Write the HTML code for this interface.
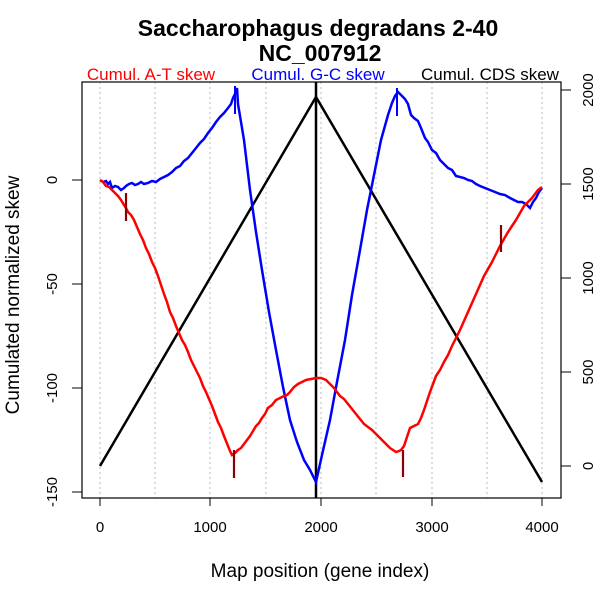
<!DOCTYPE html>
<html><head><style>
html,body{margin:0;padding:0;background:#fff;}
svg{display:block;font-family:"Liberation Sans",sans-serif;}
</style></head><body>
<svg width="600" height="600" viewBox="0 0 600 600">
<rect width="600" height="600" fill="#fff"/>
<text x="318" y="36" font-size="23" text-anchor="middle" font-weight="bold">Saccharophagus degradans 2-40</text>
<text x="320" y="61" font-size="23" text-anchor="middle" font-weight="bold">NC_007912</text>
<text x="151" y="80" font-size="17" fill="#f00" text-anchor="middle">Cumul. A-T skew</text>
<text x="318" y="80" font-size="17" fill="#00f" text-anchor="middle">Cumul. G-C skew</text>
<text x="490" y="80" font-size="17" fill="#000" text-anchor="middle">Cumul. CDS skew</text>
<g stroke="#bbb" stroke-dasharray="2,3" stroke-width="1">
<line x1="100" y1="82" x2="100" y2="498"/><line x1="155" y1="82" x2="155" y2="498"/><line x1="210" y1="82" x2="210" y2="498"/><line x1="266" y1="82" x2="266" y2="498"/><line x1="321" y1="82" x2="321" y2="498"/><line x1="376" y1="82" x2="376" y2="498"/><line x1="432" y1="82" x2="432" y2="498"/><line x1="487" y1="82" x2="487" y2="498"/><line x1="542" y1="82" x2="542" y2="498"/>
</g>
<polyline fill="none" stroke="#000" stroke-width="2.5" points="100,466 316,97 542,482"/>
<line x1="316" y1="82" x2="316" y2="498" stroke="#000" stroke-width="2.5"/>
<polyline fill="none" stroke="#00f" stroke-width="2.5" points="100,180 103,182 106,181 108,184 110,182 112,188 115,186 118,187 121,190 124,188 126,186 129,184 132,183 135,185 138,184 141,182 144,184 148,183 152,181 156,182 160,179 164,177 168,175 172,172 176,168 180,166 184,161 188,158 192,153 196,148 200,143 204,139 208,133 212,128 216,122 220,117 224,113 228,108 231,104 233,98 236,92 237,88 238,104 244,140 250,190 256,232 262,270 269,312 276,350 283,387 290,420 297,442 304,460 310,470 316,482 322,455 330,420 337,382 345,340 352,295 360,250 367,210 375,170 381,140 388,115 392,103 395,96 398,92 402,96 405,99 408,104 411,115 414,118 418,121 421,128 425,138 428,142 432,150 436,153 440,160 444,164 448,168 452,170 456,176 460,177 464,178 468,180 472,181 476,184 480,186 485,188 490,190 495,192 500,194 505,195 510,198 514,200 518,202 522,202 526,204 530,208 533,202 536,198 539,192 542,188"/>
<line x1="235" y1="86" x2="235" y2="114" stroke="#00f" stroke-width="2"/>
<line x1="397" y1="88" x2="397" y2="116" stroke="#00f" stroke-width="2"/>
<polyline fill="none" stroke="#f00" stroke-width="2.5" points="100,180 103,182 106,186 109,187 112,190 115,193 118,196 121,200 124,205 126,208 128,212 131,215 134,220 137,227 140,234 143,240 146,248 149,254 152,262 155,268 158,276 161,285 164,294 167,302 170,312 173,318 176,326 179,333 182,340 185,345 188,352 191,360 194,366 197,372 200,378 203,386 206,392 209,399 212,406 215,414 218,422 221,428 224,436 226,441 228,446 230,451 232,455 235,453 238,450 241,448 244,444 247,440 250,436 253,431 256,426 259,423 262,418 265,414 268,408 272,405 276,400 280,398 284,396 287,395 290,392 294,387 298,384 302,382 306,380 311,379 316,378 321,378 326,380 330,384 334,388 337,392 340,396 344,399 348,404 352,409 356,414 360,419 364,424 368,427 372,430 375,433 378,436 381,439 384,442 387,445 390,448 393,450 396,452 399,451 401,450 404,446 406,440 408,434 410,428 414,426 418,424 421,418 424,410 427,401 430,392 433,384 436,376 440,370 444,362 448,355 452,346 456,338 460,330 464,321 468,312 472,303 476,294 480,285 484,276 488,269 492,262 496,254 500,246 504,239 508,232 512,226 516,220 520,213 524,206 528,202 532,198 535,194 538,190 542,187"/>
<g stroke="#8b0000" stroke-width="2.2">
<line x1="126" y1="193" x2="126" y2="221"/>
<line x1="234" y1="450" x2="234" y2="478"/>
<line x1="403" y1="450" x2="403" y2="477"/>
<line x1="501" y1="225" x2="501" y2="252"/>
</g>
<rect x="82" y="82" width="479" height="416" fill="none" stroke="#000" stroke-width="1.2"/>
<g stroke="#000" stroke-width="1">
<line x1="72" y1="180" x2="82" y2="180"/><line x1="72" y1="284" x2="82" y2="284"/><line x1="72" y1="388" x2="82" y2="388"/><line x1="72" y1="492" x2="82" y2="492"/>
<line x1="561" y1="90" x2="571" y2="90"/><line x1="561" y1="184" x2="571" y2="184"/><line x1="561" y1="278" x2="571" y2="278"/><line x1="561" y1="372" x2="571" y2="372"/><line x1="561" y1="466" x2="571" y2="466"/>
<line x1="100" y1="498" x2="100" y2="506"/><line x1="210" y1="498" x2="210" y2="506"/><line x1="321" y1="498" x2="321" y2="506"/><line x1="432" y1="498" x2="432" y2="506"/><line x1="542" y1="498" x2="542" y2="506"/>
</g>
<g font-size="15" text-anchor="middle">
<text transform="translate(57,180) rotate(-90)">0</text>
<text transform="translate(57,284) rotate(-90)">-50</text>
<text transform="translate(57,388) rotate(-90)">-100</text>
<text transform="translate(57,492) rotate(-90)">-150</text>
<text transform="translate(593,90) rotate(-90)">2000</text>
<text transform="translate(593,184) rotate(-90)">1500</text>
<text transform="translate(593,278) rotate(-90)">1000</text>
<text transform="translate(593,372) rotate(-90)">500</text>
<text transform="translate(593,466) rotate(-90)">0</text>
<text x="100" y="532">0</text><text x="210" y="532">1000</text><text x="321" y="532">2000</text><text x="432" y="532">3000</text><text x="542" y="532">4000</text>
</g>
<text x="320" y="577" font-size="19" text-anchor="middle">Map position (gene index)</text>
<text transform="translate(19,295) rotate(-90)" font-size="19" text-anchor="middle">Cumulated normalized skew</text>
</svg>
</body></html>
